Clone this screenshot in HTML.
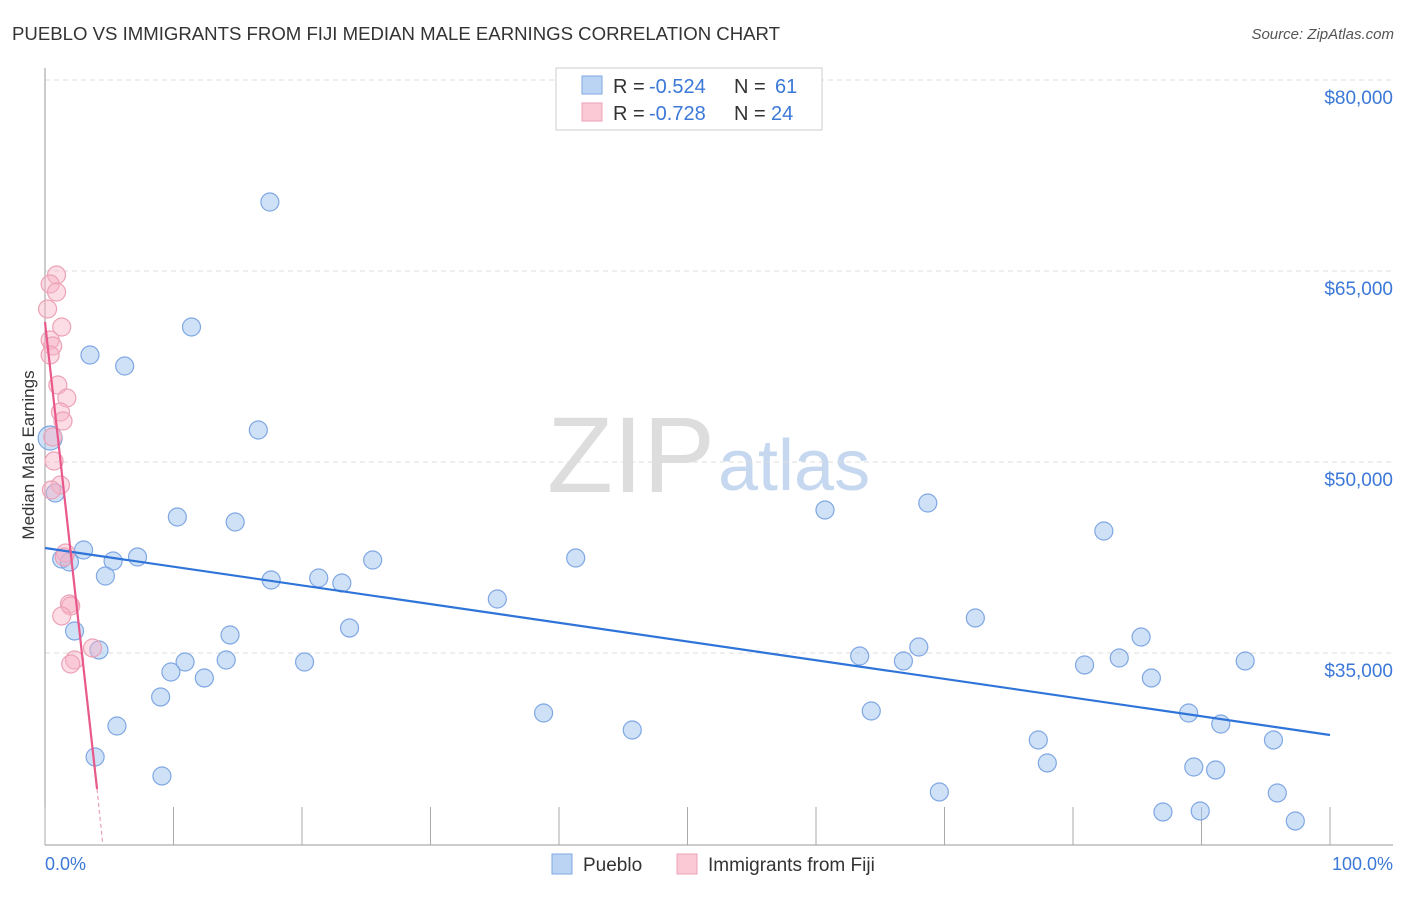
<!DOCTYPE html>
<html><head><meta charset="utf-8"><style>
body{margin:0;background:#fff;font-family:"Liberation Sans",sans-serif}
svg text{font-family:"Liberation Sans",sans-serif}
</style></head><body>
<svg id="c" width="1406" height="892" xmlns="http://www.w3.org/2000/svg">
<text x="12" y="40" font-size="18.5" fill="#333" textLength="768" lengthAdjust="spacingAndGlyphs">PUEBLO VS IMMIGRANTS FROM FIJI MEDIAN MALE EARNINGS CORRELATION CHART</text>
<text x="1394" y="39" font-size="15" fill="#555" text-anchor="end" font-style="italic">Source: ZipAtlas.com</text>
<text x="715" y="492" font-size="108" fill="#ddd" text-anchor="end" font-family="Liberation Serif">ZIP</text>
<text x="718" y="490" font-size="72" fill="#c5d8ef">atlas</text>
<g id="grid"></g><g id="axes"></g><g id="pts"></g><g id="trend"></g>
<text transform="translate(34,455) rotate(-90)" font-size="17" fill="#333" text-anchor="middle">Median Male Earnings</text>
<text x="45" y="870" font-size="18" fill="#3b78d8">0.0%</text>
<text x="1393" y="870" font-size="18" fill="#3b78d8" text-anchor="end">100.0%</text>
<g>
<rect x="556" y="68" width="266" height="62" fill="#fff" stroke="#ccc"/>
<rect x="582" y="76" width="20" height="18" fill="#bcd4f4" stroke="#7fa7e3"/>
<rect x="582" y="103" width="20" height="18" fill="#fbc9d6" stroke="#eca2b6"/>
<text y="93" font-size="20" fill="#333"><tspan x="613">R =</tspan><tspan x="649" fill="#3b78d8">-0.524</tspan><tspan x="734">N =</tspan><tspan x="775" fill="#3b78d8">61</tspan></text>
<text y="120" font-size="20" fill="#333"><tspan x="613">R =</tspan><tspan x="649" fill="#3b78d8">-0.728</tspan><tspan x="734">N =</tspan><tspan x="771" fill="#3b78d8">24</tspan></text>
</g>
<g>
<rect x="552" y="854" width="20" height="20" fill="#bcd4f4" stroke="#7fa7e3"/>
<text x="583" y="871" font-size="19" fill="#333">Pueblo</text>
<rect x="677" y="854" width="20" height="20" fill="#fbc9d6" stroke="#eca2b6"/>
<text x="708" y="871" font-size="19" fill="#333">Immigrants from Fiji</text>
</g>
</svg>
<script>
const yTicks=[35000,50000,65000,80000];
const yTickLabels=["$35,000","$50,000","$65,000","$80,000"];
const xTicks=[0,10,20,30,40,50,60,70,80,90,100];
const puebloX=[17.5,11.4,3.5,6.2,16.6,0.4,0.8,10.3,14.8,60.7,68.7,82.4,3.0,1.3,1.9,5.3,7.2,25.5,41.3,4.7,17.6,21.3,23.1,35.2,72.4,23.7,2.3,14.4,85.3,4.2,68.0,63.4,10.9,14.1,20.2,66.8,83.6,93.4,80.9,9.8,12.4,86.1,9.0,38.8,64.3,89.0,5.6,91.5,45.7,77.3,95.6,3.9,78.0,89.4,91.1,9.1,69.6,95.9,87.0,89.9,97.3];
const puebloY=[70417,60601,58402,57538,52512,51884,47565,45680,45287,46230,46780,44581,43089,42382,42146,42225,42539,42303,42460,41047,40733,40890,40497,39241,37749,36963,36728,36414,36256,35236,35471,34764,34293,34450,34293,34372,34607,34372,34058,33508,33037,33037,31545,30288,30445,30288,29267,29424,28953,28168,28168,26833,26362,26047,25812,25341,24084,24006,22514,22592,21807];
const fijiX=[0.9,0.4,0.9,0.2,1.3,0.4,0.6,0.4,1.0,1.7,1.2,1.4,0.6,0.7,1.2,0.5,1.6,1.5,1.9,2.0,1.3,3.7,2.3,2.0];
const fijiY=[64684,63978,63349,62014,60601,59580,59109,58402,56046,55025,53926,53219,51962,50078,48193,47800,42853,42539,38848,38691,37906,35393,34450,34136];
const puebloTrend=[[0,43245],[100,28561]];
const fijiTrend=[[0,60993],[4.05,24320]];
const fijiTrendExt=[[4.05,24320],[4.5,19922]];

const X0=45,X1=1330,xs=v=>X0+(X1-X0)*v/100;
const ys=v=>653-(v-35000)*382/30000;
const NS="http://www.w3.org/2000/svg";
function mk(p,t,a){const e=document.createElementNS(NS,t);for(const k in a)e.setAttribute(k,a[k]);document.getElementById(p).appendChild(e);return e;}
yTicks.forEach((t,i)=>{
 const g=mk('grid','line',{x1:X0,x2:1393,y1:ys(t),y2:ys(t),stroke:'#ddd','stroke-dasharray':'5,4'});
 
 
 const l=mk('grid','text',{x:1393,y:ys(t)+24,'font-size':19,fill:'#3b78d8','text-anchor':'end'});
 l.textContent=yTickLabels[i];
 
 
});
const ya=mk('axes','line',{x1:X0,x2:X0,y1:68,y2:845,stroke:'#999'});


const xa=mk('axes','line',{x1:X0,x2:1393,y1:845,y2:845,stroke:'#999'});


xTicks.forEach(t=>{
 const k=mk('axes','line',{x1:xs(t),x2:xs(t),y1:807,y2:845,stroke:'#aaa'});
 
 
});
puebloX.forEach((x,i)=>{
 const c=mk('pts','circle',{cx:xs(x),cy:ys(puebloY[i]),r:i==5?12:9,fill:'rgba(160,196,240,0.5)',stroke:'#7fa7e3','stroke-width':1.2});
 
 
});
fijiX.forEach((x,i)=>{
 const c=mk('pts','circle',{cx:xs(x),cy:ys(fijiY[i]),r:9,fill:'rgba(248,178,198,0.45)',stroke:'#eca2b6','stroke-width':1.2});
 
 
});
const bt=mk('trend','line',{x1:xs(puebloTrend[0][0]),y1:ys(puebloTrend[0][1]),x2:xs(puebloTrend[1][0]),y2:ys(puebloTrend[1][1]),stroke:'#2f74d8','stroke-width':2.2});


const pt=mk('trend','line',{x1:xs(fijiTrend[0][0]),y1:ys(fijiTrend[0][1]),x2:xs(fijiTrend[1][0]),y2:ys(fijiTrend[1][1]),stroke:'#e8588a','stroke-width':2.2});


const pd=mk('trend','line',{x1:xs(fijiTrendExt[0][0]),y1:ys(fijiTrendExt[0][1]),x2:xs(fijiTrendExt[1][0]),y2:ys(fijiTrendExt[1][1]),stroke:'#e8a0b8','stroke-width':1.2,'stroke-dasharray':'4,3'});


</script>
</body></html>
